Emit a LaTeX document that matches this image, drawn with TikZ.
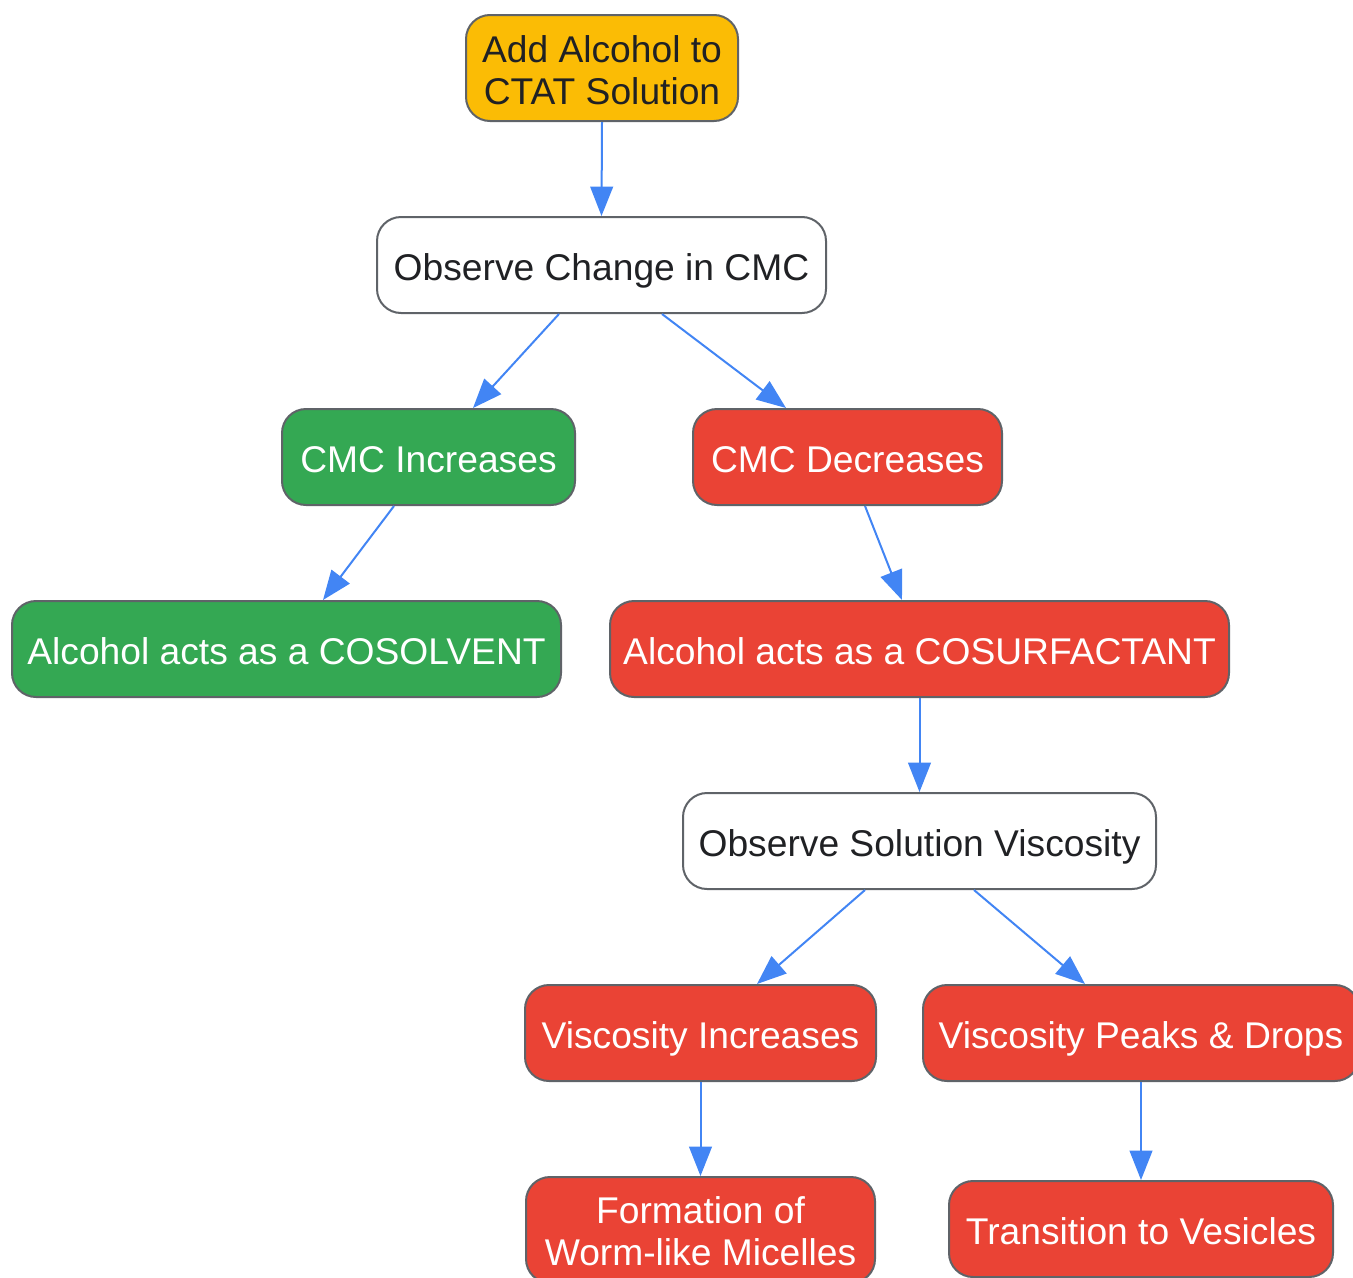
\documentclass[tikz,border=0pt]{standalone}
\usepackage{fontspec}
\setmainfont{Liberation Sans}
\usetikzlibrary{arrows.meta,calc}
\definecolor{cyellow}{HTML}{FBBC05}
\definecolor{cgreen}{HTML}{34A853}
\definecolor{cred}{HTML}{EA4335}
\definecolor{cblue}{HTML}{4285F4}
\definecolor{cborder}{HTML}{5F6368}
\definecolor{ctext}{HTML}{202124}
\newcommand{\twolines}[2]{\begin{tabular}[b]{@{}c@{}}#1\\#2\end{tabular}}
\begin{document}
\begin{tikzpicture}[x=0.75pt,y=-0.75pt,
  box/.style={draw=cborder, line width=1.5pt, rounded corners=18pt, inner sep=0pt,
    minimum height=72pt, font=\fontsize{27.9}{31.5}\selectfont},
  oneline/.style={text height=27pt, text depth=4.5pt},
  plainbox/.style={box, fill=white, text=ctext},
  yellowbox/.style={box, fill=cyellow, text=ctext},
  greenbox/.style={box, fill=cgreen, text=white},
  redbox/.style={box, fill=cred, text=white},
  conn/.style={draw=cblue, line width=1.5pt, -{Triangle[length=22pt,width=17pt]}}
]
\clip (0,0) rectangle (1353,1278);
\node[yellowbox, minimum width=204pt, minimum height=79.5pt, text height=59pt, text depth=4.5pt] (n1) at (602,68) {\twolines{Add Alcohol to}{CTAT Solution}};
\node[plainbox, oneline, minimum width=336.75pt] (n2) at (601.5,265) {Observe Change in CMC};
\node[greenbox, oneline, minimum width=219.75pt] (n3) at (428.5,457) {CMC Increases};
\node[redbox, oneline, minimum width=231.75pt] (n4) at (847.5,457) {CMC Decreases};
\node[greenbox, oneline, minimum width=411.75pt] (n5) at (286.5,649) {Alcohol acts as a COSOLVENT};
\node[redbox, oneline, minimum width=464.25pt] (n6) at (919.5,649) {Alcohol acts as a COSURFACTANT};
\node[plainbox, oneline, minimum width=354.75pt] (n7) at (919.5,841) {Observe Solution Viscosity};
\node[redbox, oneline, minimum width=263.25pt] (n8) at (700.5,1033) {Viscosity Increases};
\node[redbox, oneline, minimum width=327pt] (n9) at (1141,1033) {Viscosity Peaks \& Drops};
\node[redbox, minimum width=261.75pt, minimum height=79.5pt, text height=57.5pt, text depth=4.5pt] (n10) at (700.5,1230) {\twolines{Formation of}{Worm-like Micelles}};
\node[redbox, oneline, minimum width=288pt] (n11) at (1141,1229) {Transition to Vesicles};

\draw[conn] (n1.south) -- (n2.north);
\draw[conn] ($(n2.south)+(-42.5,0)$) -- ($(n3.north)+(44.5,0)$);
\draw[conn] ($(n2.south)+(60.5,0)$) -- ($(n4.north)+(-61.5,0)$);
\draw[conn] ($(n3.south)+(-34.5,0)$) -- ($(n5.north)+(36.5,0)$);
\draw[conn] ($(n4.south)+(17.5,0)$) -- ($(n6.north)+(-17.5,0)$);
\draw[conn] (n6.south) -- (n7.north);
\draw[conn] ($(n7.south)+(-54.5,0)$) -- ($(n8.north)+(56.5,0)$);
\draw[conn] ($(n7.south)+(54.5,0)$) -- ($(n9.north)+(-56,0)$);
\draw[conn] (n8.south) -- (n10.north);
\draw[conn] (n9.south) -- (n11.north);
\end{tikzpicture}
\end{document}
